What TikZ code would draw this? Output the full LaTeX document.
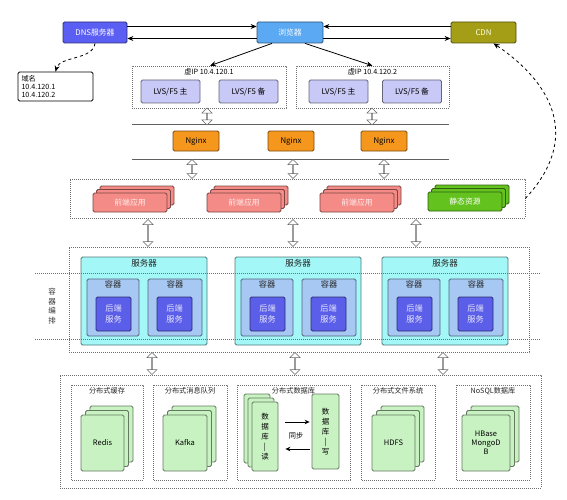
\documentclass[tikz,border=0pt]{standalone}
\usepackage{fontspec}
\setmainfont{Noto Sans CJK SC}
\usetikzlibrary{shapes.arrows,arrows.meta,calc}
\definecolor{cdns}{HTML}{5B5EF2}
\definecolor{cbrow}{HTML}{5AA9F2}
\definecolor{ccdn}{HTML}{A39E16}
\definecolor{clvs}{HTML}{C9C9F7}
\definecolor{cngx}{HTML}{F5961D}
\definecolor{capp}{HTML}{F58B86}
\definecolor{cstat}{HTML}{63C21E}
\definecolor{csrv}{HTML}{A3F7F7}
\definecolor{ccont}{HTML}{A6C8F2}
\definecolor{cback}{HTML}{5B5EE8}
\definecolor{cgrn}{HTML}{C9F2C3}
\definecolor{cdot}{HTML}{707070}
\begin{document}
\begin{tikzpicture}[x=1pt,y=-1pt,
  box/.style={draw=#1!50!black,fill=#1,rounded corners=1.5pt,line width=0.8pt,inner sep=0pt,align=center,font=\fontsize{7.8}{9}\selectfont},
  dotbox/.style={draw=cdot,line width=0.6pt,dash pattern=on 0.7pt off 1.3pt},
  harrow/.style={double arrow,draw=gray!80!black,fill=white,line width=0.5pt,rotate=90,minimum width=10pt,double arrow head extend=2.5pt,inner sep=0pt,minimum height=#1},
  conn/.style={line width=0.8pt,-{Stealth[length=6pt,width=5pt]}},
  lbl/.style={font=\fontsize{7.2}{8}\selectfont,inner sep=0pt}
]
\useasboundingbox (0,0) rectangle (567,500);

% top row
\node[box=cdns,minimum width=64pt,minimum height=21pt,text=white] (dns) at (95,32.5) {DNS服务器};
\node[box=cbrow,minimum width=66pt,minimum height=21pt,text=white] (brow) at (290,32.5) {浏览器};
\node[box=ccdn,minimum width=65pt,minimum height=21pt,text=white!90!yellow] (cdn) at (483.5,32.5) {CDN};
\draw[conn] ([yshift=-6pt]brow.west) -- ([yshift=-6pt]dns.east);
\draw[conn] ([yshift=6pt]dns.east) -- ([yshift=6pt]brow.west);
\draw[conn] ([yshift=-6pt]brow.east) -- ([yshift=-6pt]cdn.west);
\draw[conn] ([yshift=6pt]cdn.west) -- ([yshift=6pt]brow.east);

\node[draw,rounded corners=1.5pt,line width=0.8pt,minimum width=75pt,minimum height=29pt,text width=68pt,align=left,inner sep=2.5pt,font=\fontsize{7.2}{8.2}\selectfont] (dom) at (55.5,86.5) {域名\\10.4.120.1\\10.4.120.2};
\draw[line width=0.8pt,dashed,-{Stealth[length=6pt,width=5pt]}] (dns.south) .. controls (93,60) and (60,56) .. (dom.north);

% VIP groups
\node[dotbox,minimum width=154pt,minimum height=42pt,inner sep=0pt] (vip1) at (209,87) {};
\node[dotbox,minimum width=153pt,minimum height=42pt,inner sep=0pt] (vip2) at (372.5,87) {};
\node[lbl] (vip1l) at (209,71.5) {虚IP 10.4.120.1};
\node[lbl] (vip2l) at (372.5,71.5) {虚IP 10.4.120.2};
\draw[conn] ([xshift=-18pt]brow.south) -- ([xshift=1pt]vip1.north);
\draw[conn] ([xshift=15pt]brow.south) -- (vip2.north);
\node[box=clvs,minimum width=59pt,minimum height=23pt] (lvs1) at (170.5,91.5) {LVS/F5 主};
\node[box=clvs,minimum width=59pt,minimum height=23pt] (lvs2) at (248.5,91.5) {LVS/F5 备};
\node[box=clvs,minimum width=59pt,minimum height=23pt] (lvs3) at (338.5,91.5) {LVS/F5 主};
\node[box=clvs,minimum width=59pt,minimum height=23pt] (lvs4) at (412,91.5) {LVS/F5 备};

% nginx layer
\coordinate (la1) at (132,125); \coordinate (lb1) at (449,125);
\coordinate (la2) at (132,159); \coordinate (lb2) at (449,159);
\draw[line width=1pt,gray!75!black] (la1) -- (lb1);
\draw[line width=1pt,gray!75!black] (la2) -- (lb2);
\node[box=cngx,minimum width=46pt,minimum height=20pt] (ng1) at (196,141) {Nginx};
\node[box=cngx,minimum width=46pt,minimum height=20pt] (ng2) at (291,141) {Nginx};
\node[box=cngx,minimum width=46pt,minimum height=20pt] (ng3) at (384,141) {Nginx};
\node[harrow=17pt] (ha1) at (207,116.5) {};
\node[harrow=17pt] (ha2) at (372,116.5) {};

% front app layer
\node[dotbox,minimum width=455pt,minimum height=39pt,inner sep=0pt] (front) at (297.5,198.5) {};
\node[harrow=19pt] (hb1) at (192,169) {};
\node[harrow=19pt] (hb2) at (293,169) {};
\node[harrow=19pt] (hb3) at (384,169) {};
\foreach \x/\n in {93/app1,207/app2,320/app3}{
  \draw[box=capp] (\x+7,186) rectangle (\x+81,205);
  \draw[box=capp] (\x+3.5,189.5) rectangle (\x+77.5,208.5);
  \node[box=capp,minimum width=74pt,minimum height=19pt,text=white!85!capp] (\n) at (\x+37,202.5) {前端应用};
}
\draw[box=cstat] (435,185) rectangle (509,204);
\draw[box=cstat] (431.5,188.5) rectangle (505.5,207.5);
\node[box=cstat,minimum width=74pt,minimum height=19pt,text=white] (stat) at (465,201.5) {静态资源};
\draw[line width=0.8pt,dashed,-{Stealth[length=6pt,width=5pt]}] (front.east) .. controls (580,140) and (555,85) .. ([xshift=10pt]cdn.south);

% server layer
\node[dotbox,minimum width=460pt,minimum height=105pt,inner sep=0pt] (srvall) at (299,299.5) {};
\node[harrow=27pt] (hc1) at (148,233) {};
\node[harrow=27pt] (hc2) at (293,233) {};
\node[harrow=27pt] (hc3) at (416,233) {};
\foreach \x/\n in {81/s1,235/s2,382/s3}{
  \node[box=csrv,minimum width=126pt,minimum height=88pt] (\n) at (\x+63,301) {};
  \node[font=\fontsize{8.5}{9}\selectfont,inner sep=0pt,text=black!85] (\n t) at (\x+63,263) {服务器};
  \node[box=ccont,minimum width=52pt,minimum height=57pt] (\n c1) at (\x+32,307.5) {};
  \node[box=ccont,minimum width=54pt,minimum height=57pt] (\n c2) at (\x+94,307.5) {};
  \node[font=\fontsize{8.2}{9}\selectfont,inner sep=0pt,text=black!85] at (\x+32,284.5) {容器};
  \node[font=\fontsize{8.2}{9}\selectfont,inner sep=0pt,text=black!85] at (\x+94,284.5) {容器};
  \node[box=cback,minimum width=35pt,minimum height=34pt,text=white!85!cback,font=\fontsize{8.2}{10.5}\selectfont] (\n b1) at (\x+32.5,314) {后端\\服务};
  \node[box=cback,minimum width=35pt,minimum height=34pt,text=white!85!cback,font=\fontsize{8.2}{10.5}\selectfont] (\n b2) at (\x+93.5,314) {后端\\服务};
}
\draw[line width=0.6pt,cdot,dash pattern=on 0.7pt off 1.3pt] (35,273) -- (540,273);
\draw[line width=0.6pt,cdot,dash pattern=on 0.7pt off 1.3pt] (35,339) -- (540,339);
\node[align=center,font=\fontsize{7.5}{9.5}\selectfont,text=black!80] (orch) at (52,306) {容\\器\\编\\排};

% storage layer
\node[dotbox,minimum width=481pt,minimum height=113pt,inner sep=0pt] (store) at (300.5,431.5) {};
\node[harrow=22pt] (hd1) at (152,363.5) {};
\node[harrow=22pt] (hd2) at (295,363.5) {};
\node[harrow=22pt] (hd3) at (443,363.5) {};
\foreach \a/\b/\t/\n in {71/143/分布式缓存/g1,153/227/分布式消息队列/g2,237/350/分布式数据库/g3,361/435/分布式文件系统/g4,456/530/NoSQL数据库/g5}{
  \draw[dotbox] (\a,385) rectangle (\b,480);
  \node[lbl,text=black!85] (\n) at ({(\a+\b)/2},391) {\t};
}
\foreach \x/\w/\t/\n in {81/43/Redis/redis,163/44/Kafka/kafka,372/43/HDFS/hdfs,462/48/{HBase\\MongoD\\B}/nosql}{
  \draw[box=cgrn] (\x+9,406) rectangle (\x+\w+9,462);
  \draw[box=cgrn] (\x+4.5,410.5) rectangle (\x+\w+4.5,466.5);
  \node[box=cgrn,minimum width=\w pt,minimum height=56pt,font=\fontsize{7.5}{9}\selectfont] (\n) at (\x+\w/2,443) {\t};
}
\draw[box=cgrn] (244,394) rectangle (270,463);
\draw[box=cgrn] (248,398) rectangle (274,467);
\node[box=cgrn,minimum width=26pt,minimum height=69pt,font=\fontsize{7.5}{10}\selectfont] (dbr) at (265,436.5) {数\\据\\库\\|\\读};
\node[box=cgrn,minimum width=27pt,minimum height=75pt,font=\fontsize{7.5}{10}\selectfont] (dbw) at (325.5,431.5) {数\\据\\库\\|\\写};
\coordinate (sy1) at (0,422);
\coordinate (sy2) at (0,449);
\draw[line width=0.8pt,-{Stealth[length=5pt,width=4.5pt]},shorten <=7pt,shorten >=2pt] (dbr.east |- sy1) -- (dbw.west |- sy1);
\draw[line width=0.8pt,-{Stealth[length=5pt,width=4.5pt]},shorten <=2pt,shorten >=7pt] (dbw.west |- sy2) -- (dbr.east |- sy2);
\node[lbl] (sync) at (296,436) {同步};
\end{tikzpicture}
\end{document}
